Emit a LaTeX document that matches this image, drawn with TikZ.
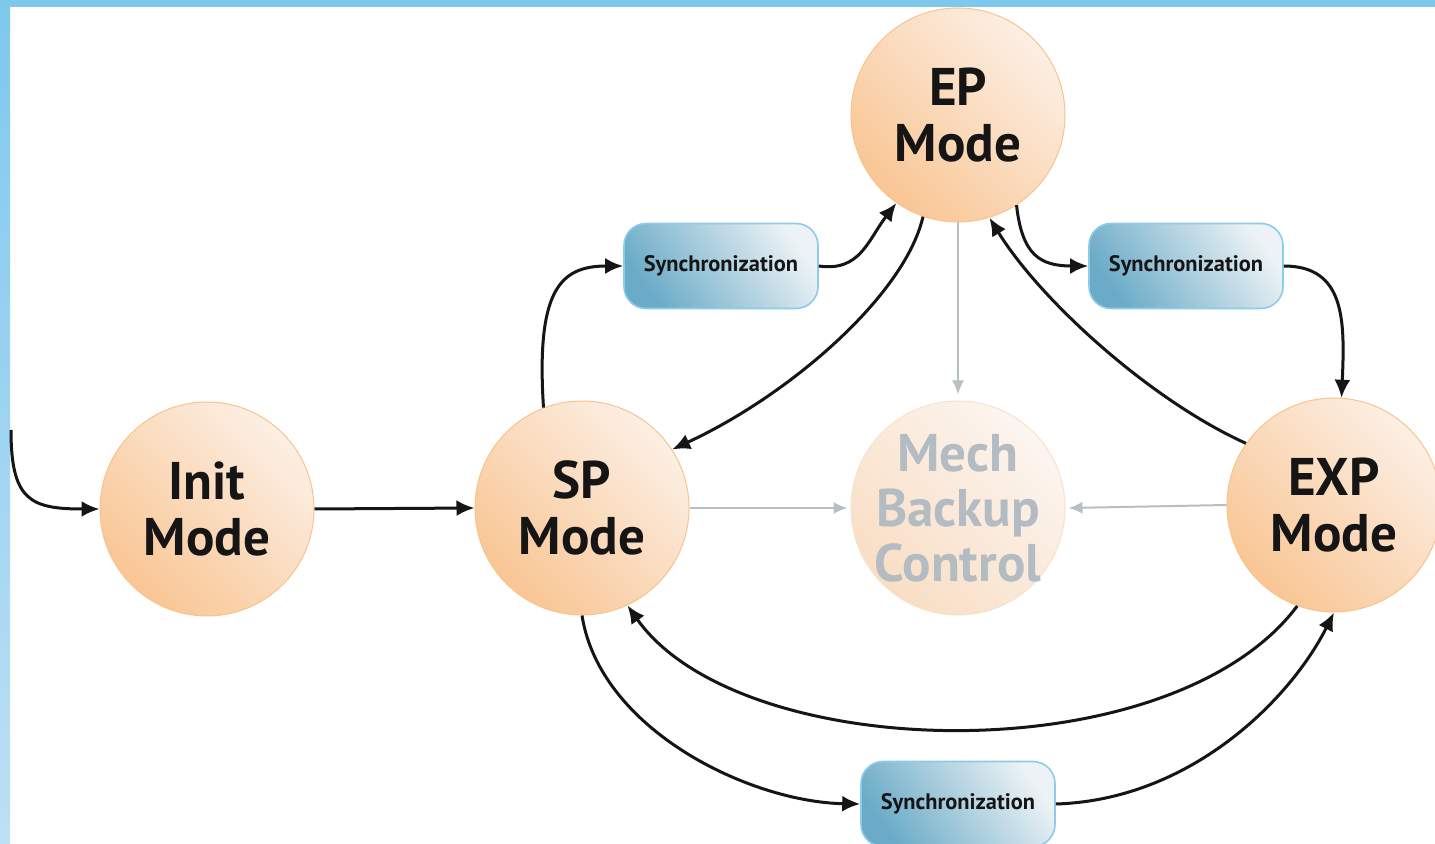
\documentclass[tikz,border=0pt]{standalone}
\usepackage{fontspec}
\setmainfont{PT Sans}
\usetikzlibrary{arrows.meta}
\definecolor{band}{HTML}{7EC8EE}
\definecolor{bandlight}{HTML}{BDE0F5}
\definecolor{modedark}{HTML}{F9C694}
\definecolor{modelight}{HTML}{FCEFE4}
\definecolor{modeedge}{HTML}{F8C38C}
\definecolor{mechdark}{HTML}{F9DEC4}
\definecolor{mechlight}{HTML}{FCF5F0}
\definecolor{mechedge}{HTML}{F9E1CB}
\definecolor{mechtext}{HTML}{B3BCC2}
\definecolor{syncdark}{HTML}{6AABC7}
\definecolor{synclight}{HTML}{ECF2F5}
\definecolor{syncedge}{HTML}{8CCBEA}
\definecolor{passive}{HTML}{B8BFC3}
\definecolor{ink}{HTML}{151515}
\tikzset{
  mode/.style={circle, minimum size=107pt, inner sep=0pt, align=center,
    draw=modeedge, line width=0.5pt, text=ink,
    font=\fontsize{26.5}{28}\selectfont\bfseries,
    top color=modelight, bottom color=modedark, shading angle=-45},
  mech/.style={mode, inner sep=-8pt, draw=mechedge, top color=mechlight, bottom color=mechdark,
    shading angle=-45, text=mechtext, font=\fontsize{26.5}{27.5}\selectfont\bfseries},
  sync/.style={rectangle, rounded corners=11pt, minimum width=97pt, minimum height=42.5pt,
    inner sep=0pt, draw=syncedge, line width=0.8pt, text=ink,
    font=\fontsize{11.2}{13}\selectfont\bfseries,
    top color=synclight, bottom color=syncdark, shading angle=-55},
  flow/.style={line width=1.5pt, draw=ink, -{Latex[length=9pt,width=8pt]}},
  backup/.style={line width=1pt, draw=passive, -{Latex[length=7pt,width=6pt]}, passive}
}
\begin{document}
\begin{tikzpicture}[x=0.5pt,y=-0.5pt]
  \useasboundingbox (0,0) rectangle (1435,844);
  \fill[white] (0,0) rectangle (1435,844);
  % frame bands
  \shade[top color=band, bottom color=bandlight] (0,0) rectangle (10,844);
  \fill[band] (0,0) rectangle (1435,7);

  % states
  \node[mode] (init) at (207,509) {Init\\Mode};
  \node[mode] (sp)   at (582,508) {SP\\Mode};
  \node[mode] (ep)   at (958,115) {EP\\Mode};
  \node[mech] (mech) at (958,508) {Mech\\Backup\\Control};
  \node[mode] (exp)  at (1334,505) {EXP\\Mode};

  % synchronization steps
  \node[sync] (sync1) at (721,266) {Synchronization};
  \node[sync] (sync2) at (1186,266) {Synchronization};
  \node[sync] (sync3) at (958,804) {Synchronization};

  % entry
  \coordinate (entry) at (11,430);
  \draw[flow] (entry) .. controls (11,500) and (30,509) .. (init.west);
  \draw[flow] (init.east) -- (sp.west);

  % SP -> EP through synchronization
  \draw[flow] (sp.111) .. controls (536,290) and (560,266) .. (sync1.west);
  \draw[flow] (sync1.east) .. controls (860,272) and (868,240) .. (ep.235);
  % EP -> SP
  \draw[flow] (ep.251) .. controls (905,295) and (790,395) .. (sp.33);

  % EP -> EXP through synchronization
  \draw[flow] (ep.303) .. controls (1022,255) and (1040,266) .. (sync2.west);
  \draw[flow] (sync2.east) .. controls (1345,266) and (1345,320) .. (exp.86);
  % EXP -> EP
  \draw[flow] (exp.145) .. controls (1150,400) and (1040,300) .. (ep.287);

  % EXP -> SP
  \draw[flow] (exp.250) .. controls (1170,775) and (740,765) .. (sp.295);
  % SP -> EXP through synchronization
  \draw[flow] (sp.south) .. controls (600,730) and (750,802) .. (sync3.west);
  \draw[flow] (sync3.east) .. controls (1190,800) and (1290,700) .. (exp.south);

  % fall-back to mechanical backup
  \draw[backup] (ep.south) -- ([yshift=3pt]mech.north);
  \draw[backup] (sp.east) -- ([xshift=-1.5pt]mech.west);
  \draw[backup] (exp.west) -- ([xshift=1.5pt]mech.east);
\end{tikzpicture}
\end{document}
